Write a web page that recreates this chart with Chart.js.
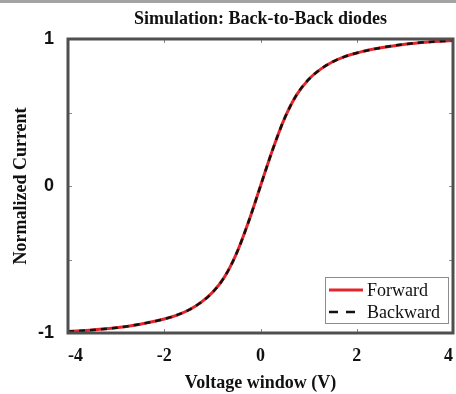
<!DOCTYPE html>
<html>
<head>
<meta charset="utf-8">
<script src="https://cdn.jsdelivr.net/npm/chart.js@4.4.1/dist/chart.umd.min.js"></script>
<style>
    html, body { margin: 0; padding: 0; background: #fff; }
    #wrap { position: relative; width: 456px; height: 394px; }
    #strip { position: absolute; left: 0; top: 0; width: 456px; height: 3px; background: #a3a3a3; }
</style>
</head>
<body>
<div id="wrap">
    <canvas id="diodeChart" width="456" height="394"></canvas>
    <div id="strip"></div>
</div>
<script>
// Back-to-back diode sweep: normalized current vs voltage window
const voltage         = [-4, -3.5, -3, -2.5, -2, -1.75, -1.5, -1.25, -1, -0.75, -0.5, -0.25, 0, 0.25, 0.5, 0.75, 1, 1.25, 1.5, 1.75, 2, 2.5, 3, 3.5, 4];
const forwardCurrent  = [-0.99, -0.98, -0.965, -0.94, -0.905, -0.88, -0.845, -0.795, -0.725, -0.62, -0.46, -0.245, 0, 0.245, 0.46, 0.62, 0.725, 0.795, 0.845, 0.88, 0.905, 0.94, 0.965, 0.98, 0.99];
const backwardCurrent = [-0.99, -0.98, -0.965, -0.94, -0.905, -0.88, -0.845, -0.795, -0.725, -0.62, -0.46, -0.245, 0, 0.245, 0.46, 0.62, 0.725, 0.795, 0.845, 0.88, 0.905, 0.94, 0.965, 0.98, 0.99];
const xTicks = [-4, -2, 0, 2, 4];
const yTicks = [-1, -0.5, 0, 0.5, 1];
const yLabeled = [-1, 0, 1];

const SERIF = '"Liberation Serif", "Times New Roman", serif';
const SANS = '"Liberation Sans", Arial, sans-serif';

const COLORS = {
    forward: '#e3262b',
    backward: '#111111',
    frame: '#4f4f4f',
    tick: '#8a8a8a',
    text: '#111111'
};

const toPoints = (xs, ys) => xs.map((x, i) => ({ x: x, y: ys[i] }));

// box around the plot + small inward ticks on all four sides
const framePlugin = {
    id: 'frame',
    afterDatasetsDraw(chart) {
        const { ctx, chartArea: a, scales } = chart;
        ctx.save();
        ctx.strokeStyle = COLORS.tick;
        ctx.lineWidth = 1;
        ctx.beginPath();
        xTicks.forEach(v => {
            const px = Math.round(scales.x.getPixelForValue(v)) + 0.5;
            ctx.moveTo(px, a.bottom); ctx.lineTo(px, a.bottom - 4);
            ctx.moveTo(px, a.top); ctx.lineTo(px, a.top + 4);
        });
        yTicks.forEach(v => {
            const py = Math.round(scales.y.getPixelForValue(v)) + 0.5;
            ctx.moveTo(a.left, py); ctx.lineTo(a.left + 4, py);
            ctx.moveTo(a.right, py); ctx.lineTo(a.right - 4, py);
        });
        ctx.stroke();
        ctx.strokeStyle = COLORS.frame;
        ctx.lineWidth = 3;
        ctx.strokeRect(a.left, a.top, a.right - a.left, a.bottom - a.top);
        ctx.restore();
    }
};

// legend box in the lower right corner of the plot
const cornerLegend = {
    id: 'cornerLegend',
    afterDraw(chart) {
        const { ctx, chartArea: a } = chart;
        const w = 123, h = 46;
        const x0 = a.right - 5 - w, y0 = a.bottom - 10 - h;
        ctx.save();
        ctx.fillStyle = '#fff';
        ctx.fillRect(x0, y0, w, h);
        ctx.strokeStyle = '#8c8c8c';
        ctx.lineWidth = 1;
        ctx.strokeRect(x0 + 0.5, y0 + 0.5, w, h);
        ctx.font = '18px ' + SERIF;
        ctx.textBaseline = 'middle';
        ctx.fillStyle = COLORS.text;
        chart.data.datasets.forEach((ds, i) => {
            const cy = y0 + 13 + i * 22;
            ctx.beginPath();
            ctx.strokeStyle = ds.borderColor;
            ctx.lineWidth = ds.borderWidth;
            ctx.setLineDash(ds.borderDash ? [9, 8] : []);
            ctx.moveTo(x0 + 4, cy);
            ctx.lineTo(x0 + 38, cy);
            ctx.stroke();
            ctx.setLineDash([]);
            ctx.fillText(ds.label, x0 + 42, cy + 1);
        });
        ctx.restore();
    }
};

new Chart(document.getElementById('diodeChart'), {
    type: 'line',
    data: {
        datasets: [{
            label: 'Forward',
            data: toPoints(voltage, forwardCurrent),
            borderColor: COLORS.forward,
            borderWidth: 3,
            pointRadius: 0,
            cubicInterpolationMode: 'monotone',
            order: 2
        }, {
            label: 'Backward',
            data: toPoints(voltage, backwardCurrent),
            borderColor: COLORS.backward,
            borderWidth: 2.5,
            borderDash: [6, 5],
            pointRadius: 0,
            cubicInterpolationMode: 'monotone',
            order: 1
        }]
    },
    options: {
        responsive: false,
        animation: false,
        layout: { autoPadding: false, padding: { left: 0, right: 3, top: 0, bottom: 0 } },
        plugins: {
            legend: { display: false },
            tooltip: { enabled: false },
            title: {
                display: true,
                text: 'Simulation: Back-to-Back diodes',
                fullSize: false,
                color: COLORS.text,
                font: { family: SERIF, size: 18, weight: 'bold' },
                padding: { top: 9, bottom: 8.4 }
            }
        },
        scales: {
            x: {
                type: 'linear',
                min: -4,
                max: 4,
                afterBuildTicks: scale => { scale.ticks = xTicks.map(v => ({ value: v })); },
                grid: { drawOnChartArea: false, drawTicks: false },
                border: { display: false },
                ticks: {
                    padding: 13,
                    align: 'inner',
                    color: COLORS.text,
                    maxRotation: 0,
                    font: { family: SERIF, size: 18, weight: 'bold' }
                },
                title: {
                    display: true,
                    text: 'Voltage window (V)',
                    color: COLORS.text,
                    font: { family: SERIF, size: 18, weight: 'bold' },
                    padding: { top: 0, bottom: 0 }
                },
                afterFit: scale => {
                    scale.height = 61;
                    scale.paddingLeft = 0;
                    scale.paddingRight = 0;
                }
            },
            y: {
                min: -1,
                max: 1,
                afterBuildTicks: scale => { scale.ticks = yTicks.map(v => ({ value: v })); },
                grid: { drawOnChartArea: false, drawTicks: false },
                border: { display: false },
                ticks: {
                    padding: 14,
                    color: COLORS.text,
                    font: { family: SANS, size: 18, weight: 'bold' },
                    callback: v => yLabeled.includes(v) ? String(v) : ''
                },
                title: {
                    display: true,
                    text: 'Normalized Current',
                    color: COLORS.text,
                    font: { family: SERIF, size: 18, weight: 'bold' },
                    padding: { top: 11, bottom: 0 }
                },
                afterFit: scale => { scale.width = 68; }
            }
        }
    },
    plugins: [framePlugin, cornerLegend]
});
</script>
</body>
</html>
